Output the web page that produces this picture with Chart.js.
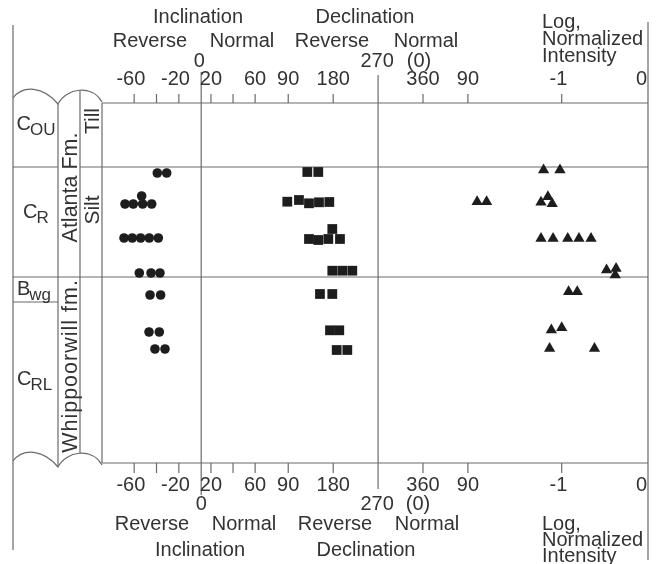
<!DOCTYPE html>
<html>
<head>
<meta charset="utf-8">
<script src="https://cdn.jsdelivr.net/npm/chart.js@4.4.1/dist/chart.umd.min.js"></script>
<style>
  html, body { margin: 0; padding: 0; background: #fff; }
  #wrap { width: 658px; height: 564px; }
</style>
</head>
<body>
<div id="wrap"><canvas id="paleoChart" width="658" height="564"></canvas></div>
<script>
// depth below top of section (cm), one entry per specimen
const incDepth = [70, 70, 101, 101, 93, 101, 101, 135, 135, 135, 135, 135, 170, 170, 170, 192, 192, 229, 229, 246, 246];
const incValues = [-39.3, -30.9, -68.2, -60.8, -53.3, -52.4, -44.3, -69.1, -61.7, -54.2, -46.5, -38.4, -55.4, -44.9, -36.9, -45.8, -36.3, -46.7, -37.5, -41.4, -32.4];

const decDepth = [69, 69, 98.7, 97, 100.3, 99.3, 99, 136, 137, 136, 126, 136, 167.7, 167.7, 167.7, 191, 191, 227.3, 227.3, 247, 247];
const decValues = [128.1, 150.1, 88.0, 111.4, 131.5, 151.5, 172.2, 131.5, 150.1, 170.2, 178.2, 193.6, 178.2, 198.2, 218.3, 153.5, 178.2, 173.6, 192.2, 187.0, 208.3];

const intDepth = [67, 67, 98.7, 98.7, 99.2, 93.7, 100.7, 135.4, 135.4, 135.4, 135.4, 135.4, 167, 165.4, 172, 188.7, 188.7, 227, 224.7, 245.4, 245.4];
const intValues = [-1.21, -1.02, -1.98, -1.87, -1.24, -1.16, -1.11, -1.24, -1.10, -0.93, -0.80, -0.66, -0.48, -0.37, -0.38, -0.92, -0.82, -1.12, -1.00, -1.14, -0.62];

// contacts: C_OU / C_R, C_R / B_wg, B_wg / C_RL
const contactDepths = [64, 174, 199];

// axis ticks
const incReverseTicks = [-60, -40, -20];
const incReverseLabels = ['-60', '', '-20'];
const incNormalTicks = [20, 40, 60, 90];
const incNormalLabels = ['20', '', '60', '90'];
const decTicks = [180, 360, 450];
const decLabels = ['180', '360', '90'];
const intTicks = [-1, 0];
const intLabels = ['-1', '0'];

const INK = '#333';
const RULE = '#6a6a6a';
const MARK = '#1d1d1d';
const FONT = '"Liberation Sans", Arial, Helvetica, sans-serif';

function line(ctx, x1, y1, x2, y2) {
    ctx.beginPath();
    ctx.moveTo(x1, y1);
    ctx.lineTo(x2, y2);
    ctx.stroke();
}

function text(ctx, s, x, y, size, align) {
    ctx.font = size + 'px ' + FONT;
    ctx.textAlign = align || 'center';
    ctx.fillText(s, x, y);
}

function vtext(ctx, s, cx, cy, size, spacing) {
    ctx.save();
    ctx.translate(cx, cy);
    ctx.rotate(-Math.PI / 2);
    ctx.font = size + 'px ' + FONT;
    ctx.textAlign = 'center';
    if (spacing) ctx.letterSpacing = spacing + 'px';
    ctx.fillText(s, 0, size * 0.36);
    ctx.restore();
}

// letter with subscript, e.g. C_OU
function unitLabel(ctx, main, sub, x, y) {
    ctx.font = '20px ' + FONT;
    ctx.textAlign = 'left';
    ctx.fillText(main, x, y);
    const w = ctx.measureText(main).width;
    ctx.font = '17px ' + FONT;
    ctx.fillText(sub, x + w - 1, y + 5);
}

function tickLabels(ctx, chart, scale, values, labels, yBase) {
    ctx.font = '20px ' + FONT;
    values.forEach((v, i) => {
        const s = labels[i];
        if (!s) return;
        let x = scale.getPixelForValue(v);
        if (x >= chart.chartArea.right - 1) {
            ctx.textAlign = 'right';
            ctx.fillText(s, x - 1, yBase);
            return;
        }
        ctx.textAlign = 'center';
        if (s[0] === '-') x -= ctx.measureText('-').width / 2;
        ctx.fillText(s, x, yBase);
    });
}

const sectionFrame = {
    id: 'sectionFrame',
    beforeDatasetsDraw(chart) {
        const { ctx, chartArea: a, scales: s } = chart;
        ctx.save();
        ctx.strokeStyle = RULE;
        ctx.lineWidth = 1.2;

        line(ctx, a.left, a.top, a.right, a.top);
        line(ctx, a.left, a.bottom, a.right, a.bottom);

        const ticks = [];
        incReverseTicks.forEach(v => ticks.push(s.xInc.getPixelForValue(v)));
        incNormalTicks.forEach(v => ticks.push(s.xIncN.getPixelForValue(v)));
        decTicks.forEach(v => ticks.push(s.xDec.getPixelForValue(v)));
        intTicks.forEach(v => ticks.push(s.xInt.getPixelForValue(v)));
        ticks.forEach(px => {
            if (px >= a.right - 1) return;
            line(ctx, px, a.top - 9, px, a.top);
            line(ctx, px, a.bottom, px, a.bottom + 10);
        });

        const x0 = s.xInc.getPixelForValue(0);
        line(ctx, x0, 72, x0, 495);
        const x270 = s.xDec.getPixelForValue(270);
        line(ctx, x270, 75, x270, 489);
        const xr = s.xInt.getPixelForValue(0);
        line(ctx, xr, 22, xr, 560);

        // stratigraphic column
        const cL = 13, c1 = 58, c2 = 80, cR = a.left;
        line(ctx, cL, 25, cL, 550);
        [0, 363].forEach(dy => {
            ctx.beginPath();
            ctx.moveTo(cL, 98 + dy);
            ctx.bezierCurveTo(23, 85 + dy, 43, 86 + dy, c1, 104 + dy);
            ctx.bezierCurveTo(66, 88 + dy, 92, 84 + dy, cR, 102 + dy);
            ctx.stroke();
        });
        line(ctx, c1, 104, c1, 467);
        line(ctx, c2, 90.5, c2, 453.5);
        line(ctx, cR, a.top, cR, a.bottom);

        const yA = s.y.getPixelForValue(contactDepths[0]);
        const yB = s.y.getPixelForValue(contactDepths[1]);
        const yC = s.y.getPixelForValue(contactDepths[2]);
        line(ctx, cL, yA, c1, yA);
        line(ctx, c2, yA, a.right, yA);
        line(ctx, cL, yB, a.right, yB);
        line(ctx, cL, yC, c1, yC);
        ctx.restore();
    },
    afterDraw(chart) {
        const { ctx, scales: s } = chart;
        ctx.save();
        ctx.fillStyle = INK;
        ctx.textBaseline = 'alphabetic';
        const x0 = s.xInc.getPixelForValue(0);
        const x270 = s.xDec.getPixelForValue(270);

        // top header
        text(ctx, 'Inclination', 198, 22.5, 20);
        text(ctx, 'Declination', 365, 22.5, 20);
        text(ctx, 'Reverse', 150, 46.5, 20);
        text(ctx, 'Normal', 242, 46.5, 20);
        text(ctx, 'Reverse', 332, 46.5, 20);
        text(ctx, 'Normal', 426, 46.5, 20);
        text(ctx, '0', x0 - 2, 67, 20);
        text(ctx, '270', x270 - 1, 67, 20);
        text(ctx, '(0)', 419, 66.5, 20);
        text(ctx, 'Log,', 542, 28, 20, 'left');
        text(ctx, 'Normalized', 542, 45, 20, 'left');
        text(ctx, 'Intensity', 542, 62, 20, 'left');

        // bottom footer
        text(ctx, '0', x0, 510, 20);
        text(ctx, '270', x270 - 1, 510, 20);
        text(ctx, '(0)', 418, 510, 20);
        text(ctx, 'Reverse', 152, 530, 20);
        text(ctx, 'Normal', 244, 530, 20);
        text(ctx, 'Reverse', 335, 530, 20);
        text(ctx, 'Normal', 427, 530, 20);
        text(ctx, 'Inclination', 200, 556, 20);
        text(ctx, 'Declination', 366, 556, 20);
        text(ctx, 'Log,', 542, 530, 20, 'left');
        text(ctx, 'Normalized', 542, 546, 20, 'left');
        text(ctx, 'Intensity', 542, 562, 20, 'left');

        [85, 490.5].forEach(yb => {
            tickLabels(ctx, chart, s.xInc, incReverseTicks, incReverseLabels, yb);
            tickLabels(ctx, chart, s.xIncN, incNormalTicks, incNormalLabels, yb);
            tickLabels(ctx, chart, s.xDec, decTicks, decLabels, yb);
            tickLabels(ctx, chart, s.xInt, intTicks, intLabels, yb);
        });

        // column labels
        unitLabel(ctx, 'C', 'OU', 16.5, 130);
        unitLabel(ctx, 'C', 'R', 23, 218);
        unitLabel(ctx, 'B', 'wg', 17, 295);
        unitLabel(ctx, 'C', 'RL', 17, 385);
        vtext(ctx, 'Atlanta Fm.', 69.5, 187.5, 21.5);
        vtext(ctx, 'Whippoorwill fm.', 69.5, 366, 21.5, 1);
        vtext(ctx, 'Till', 91, 121, 21);
        vtext(ctx, 'Silt', 91, 210, 21);
        ctx.restore();
    }
};

const toPoints = (xs, ys) => xs.map((v, i) => ({ x: v, y: ys[i] }));

new Chart(document.getElementById('paleoChart'), {
    type: 'scatter',
    data: {
        datasets: [
            { label: 'Inclination', xAxisID: 'xInc', yAxisID: 'y', data: toPoints(incValues, incDepth),
              pointStyle: 'circle', pointRadius: 4.8, backgroundColor: MARK, borderWidth: 0 },
            { label: 'Declination', xAxisID: 'xDec', yAxisID: 'y', data: toPoints(decValues, decDepth),
              pointStyle: 'rect', pointRadius: 6.9, backgroundColor: MARK, borderWidth: 0 },
            { label: 'Log, Normalized Intensity', xAxisID: 'xInt', yAxisID: 'y', data: toPoints(intValues, intDepth),
              pointStyle: 'triangle', pointRadius: 6.5, backgroundColor: MARK, borderWidth: 0 }
        ]
    },
    options: {
        responsive: false,
        devicePixelRatio: 1,
        animation: false,
        events: [],
        layout: { padding: { left: 102, right: 10, top: 103, bottom: 101 } },
        plugins: { legend: { display: false }, tooltip: { enabled: false } },
        scales: {
            // reverse-polarity half of inclination (all specimens fall here)
            xInc: { type: 'linear', axis: 'x', display: false, min: -88.8, max: 400.0 },
            // the figure draws the normal half of the inclination axis with its own zero
            xIncN: { type: 'linear', axis: 'x', display: false, min: -78.7, max: 415.9 },
            xDec: { type: 'linear', axis: 'x', display: false, min: -283.4, max: 811.0 },
            xInt: { type: 'linear', axis: 'x', display: false, min: -6.327, max: 0 },
            y: { type: 'linear', display: false, reverse: true, min: 0, max: 360 }
        }
    },
    plugins: [sectionFrame]
});
</script>
</body>
</html>
